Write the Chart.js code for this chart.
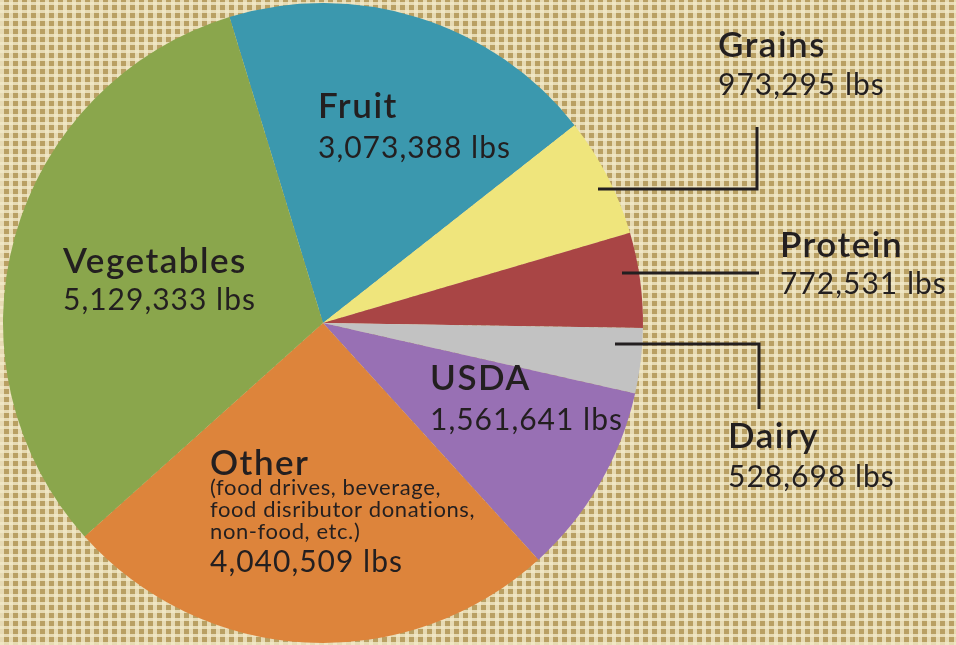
<!DOCTYPE html>
<html lang="en">
<head>
    <meta charset="UTF-8">
    <title>Food sources pie</title>
    <style>
        body {
            margin: 0;
            width: 956px;
            height: 645px;
            overflow: hidden;
            background-color: #b9a063;
            background-image:
                repeating-linear-gradient(0deg, rgba(242, 233, 200, 0.8) 0 3px, transparent 3px 8px),
                repeating-linear-gradient(90deg, rgba(242, 233, 200, 0.8) 0 4px, transparent 4px 9px);
        }
        #wrap { position: relative; width: 956px; height: 645px; }
    </style>
</head>
<body>
    <div id="wrap"><canvas id="pie" width="956" height="645"></canvas></div>
    <script src="https://cdn.jsdelivr.net/npm/chart.js"></script>
    <script>
        // data (lbs)
        var categories = ['Fruit', 'Grains', 'Protein', 'Dairy', 'USDA', 'Other', 'Vegetables'];
        var pounds = [3073388, 973295, 772531, 528698, 1561641, 4040509, 5129333];
        var sliceColors = ['#3b98ae', '#efe57c', '#a94545', '#c2c2c2', '#9870b4', '#dd843b', '#8aa64c'];
        var otherNote = ['(food drives, beverage,', 'food disributor donations,', 'non-food, etc.)'];

        // where each label sits (left x, title baseline, value baseline)
        var labelPos = {
            'Fruit': [318, 118, 158],
            'Grains': [718, 57, 95],
            'Protein': [780, 257, 294],
            'Dairy': [728, 448, 487],
            'USDA': [430, 390, 430],
            'Other': [210, 475, 572],
            'Vegetables': [63, 273, 310]
        };
        // leader lines
        var leaders = [
            [[598, 189], [757, 189], [757, 127]],
            [[622, 273], [759, 273]],
            [[615, 344], [759, 344], [759, 409]]
        ];

        var labelPlugin = {
            id: 'pieLabels',
            afterDatasetsDraw: function (chart) {
                var ctx = chart.ctx;
                ctx.save();
                ctx.strokeStyle = '#231f20';
                ctx.lineWidth = 3;
                leaders.forEach(function (pts) {
                    ctx.beginPath();
                    ctx.moveTo(pts[0][0], pts[0][1]);
                    for (var i = 1; i < pts.length; i++) ctx.lineTo(pts[i][0], pts[i][1]);
                    ctx.stroke();
                });
                ctx.fillStyle = '#231f20';
                ctx.textBaseline = 'alphabetic';
                ctx.textAlign = 'left';
                categories.forEach(function (name, i) {
                    var p = labelPos[name];
                    ctx.font = '600 35px Lato';
                    ctx.letterSpacing = '1.5px';
                    ctx.fillText(name, p[0], p[1]);
                    ctx.font = '400 30px Lato';
                    ctx.letterSpacing = '1px';
                    ctx.fillText(pounds[i].toLocaleString('en-US') + ' lbs', p[0], p[2]);
                    if (name === 'Other') {
                        ctx.font = '400 22px Lato';
                        ctx.letterSpacing = '0.6px';
                        otherNote.forEach(function (line, k) {
                            ctx.fillText(line, p[0], p[1] + 20 + k * 22);
                        });
                    }
                });
                ctx.restore();
            }
        };

        var chart01 = new Chart(document.getElementById('pie'), {
            type: 'pie',
            data: {
                labels: categories,
                datasets: [{
                    data: pounds,
                    backgroundColor: sliceColors,
                    borderWidth: 0
                }]
            },
            options: {
                responsive: false,
                animation: false,
                rotation: -17,
                layout: { padding: { left: 3, top: 3, right: 313, bottom: 2 } },
                plugins: {
                    legend: { display: false },
                    tooltip: { enabled: false }
                }
            },
            plugins: [labelPlugin]
        });
    </script>
</body>
</html>
